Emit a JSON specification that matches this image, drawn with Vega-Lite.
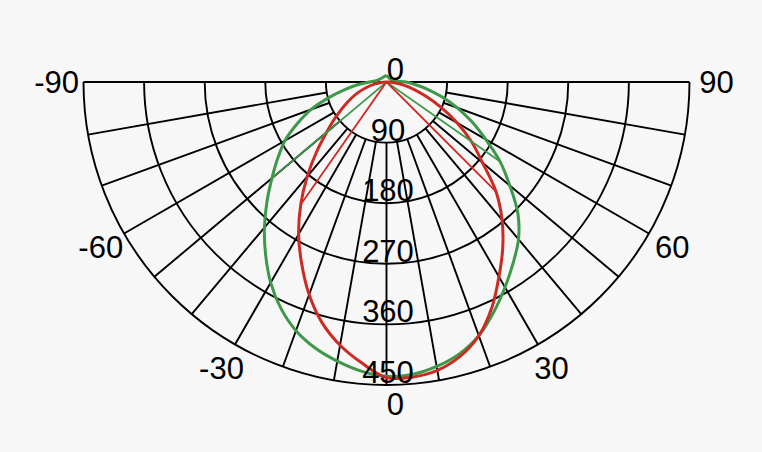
{
  "$schema": "https://vega.github.io/schema/vega-lite/v6.json",
  "width": 762,
  "height": 452,
  "autosize": {"type": "fit", "contains": "padding"},
  "padding": 0,
  "background": "#f7f7f7",
  "config": {"view": {"stroke": null}, "text": {"font": "Liberation Sans", "fontSize": 31, "color": "black"}},
  "datasets": {
    "rings": [{"r": 90}, {"r": 180}, {"r": 270}, {"r": 360}, {"r": 450}],
    "rays": [
      {"a": -90, "r0": 0, "r1": 450}, {"a": -80, "r0": 90, "r1": 450}, {"a": -70, "r0": 90, "r1": 450},
      {"a": -60, "r0": 90, "r1": 450}, {"a": -50, "r0": 90, "r1": 450}, {"a": -40, "r0": 90, "r1": 450},
      {"a": -30, "r0": 90, "r1": 450}, {"a": -20, "r0": 90, "r1": 450}, {"a": -10, "r0": 90, "r1": 450},
      {"a": 0, "r0": 90, "r1": 450}, {"a": 10, "r0": 90, "r1": 450}, {"a": 20, "r0": 90, "r1": 450},
      {"a": 30, "r0": 90, "r1": 450}, {"a": 40, "r0": 90, "r1": 450}, {"a": 50, "r0": 90, "r1": 450},
      {"a": 60, "r0": 90, "r1": 450}, {"a": 70, "r0": 90, "r1": 450}, {"a": 80, "r0": 90, "r1": 450},
      {"a": 90, "r0": 0, "r1": 450}
    ],
    "curves": [
      {"s": "C90/270", "i": 0, "a": -180, "r": 10}, {"s": "C90/270", "i": 1, "a": -100, "r": 14},
      {"s": "C90/270", "i": 2, "a": -90, "r": 25}, {"s": "C90/270", "i": 3, "a": -85, "r": 42},
      {"s": "C90/270", "i": 4, "a": -80, "r": 62}, {"s": "C90/270", "i": 5, "a": -75, "r": 88},
      {"s": "C90/270", "i": 6, "a": -70, "r": 119}, {"s": "C90/270", "i": 7, "a": -65, "r": 146},
      {"s": "C90/270", "i": 8, "a": -60, "r": 174}, {"s": "C90/270", "i": 9, "a": -55, "r": 197},
      {"s": "C90/270", "i": 10, "a": -50, "r": 222}, {"s": "C90/270", "i": 11, "a": -45, "r": 251},
      {"s": "C90/270", "i": 12, "a": -40, "r": 282}, {"s": "C90/270", "i": 13, "a": -35, "r": 313},
      {"s": "C90/270", "i": 14, "a": -30, "r": 344}, {"s": "C90/270", "i": 15, "a": -25, "r": 371},
      {"s": "C90/270", "i": 16, "a": -20, "r": 393}, {"s": "C90/270", "i": 17, "a": -15, "r": 409},
      {"s": "C90/270", "i": 18, "a": -10, "r": 421}, {"s": "C90/270", "i": 19, "a": -5, "r": 431},
      {"s": "C90/270", "i": 20, "a": 0, "r": 437}, {"s": "C90/270", "i": 21, "a": 5, "r": 436},
      {"s": "C90/270", "i": 22, "a": 10, "r": 429}, {"s": "C90/270", "i": 23, "a": 15, "r": 418},
      {"s": "C90/270", "i": 24, "a": 20, "r": 401}, {"s": "C90/270", "i": 25, "a": 25, "r": 377},
      {"s": "C90/270", "i": 26, "a": 30, "r": 352}, {"s": "C90/270", "i": 27, "a": 35, "r": 328},
      {"s": "C90/270", "i": 28, "a": 40, "r": 305}, {"s": "C90/270", "i": 29, "a": 45, "r": 276},
      {"s": "C90/270", "i": 30, "a": 50, "r": 239}, {"s": "C90/270", "i": 31, "a": 55, "r": 206},
      {"s": "C90/270", "i": 32, "a": 60, "r": 170}, {"s": "C90/270", "i": 33, "a": 65, "r": 140},
      {"s": "C90/270", "i": 34, "a": 70, "r": 112}, {"s": "C90/270", "i": 35, "a": 75, "r": 85},
      {"s": "C90/270", "i": 36, "a": 80, "r": 62}, {"s": "C90/270", "i": 37, "a": 85, "r": 42},
      {"s": "C90/270", "i": 38, "a": 90, "r": 29}, {"s": "C90/270", "i": 39, "a": 105, "r": 9},
      {"s": "C90/270", "i": 40, "a": 180, "r": 10},
      {"s": "C0/180", "i": 0, "a": -90, "r": 0}, {"s": "C0/180", "i": 1, "a": -85, "r": 8},
      {"s": "C0/180", "i": 2, "a": -80, "r": 18}, {"s": "C0/180", "i": 3, "a": -75, "r": 30},
      {"s": "C0/180", "i": 4, "a": -70, "r": 44}, {"s": "C0/180", "i": 5, "a": -65, "r": 58},
      {"s": "C0/180", "i": 6, "a": -60, "r": 74}, {"s": "C0/180", "i": 7, "a": -55, "r": 93},
      {"s": "C0/180", "i": 8, "a": -50, "r": 116}, {"s": "C0/180", "i": 9, "a": -45, "r": 147},
      {"s": "C0/180", "i": 10, "a": -40, "r": 183}, {"s": "C0/180", "i": 11, "a": -35, "r": 222},
      {"s": "C0/180", "i": 12, "a": -30, "r": 261}, {"s": "C0/180", "i": 13, "a": -25, "r": 298},
      {"s": "C0/180", "i": 14, "a": -20, "r": 336}, {"s": "C0/180", "i": 15, "a": -15, "r": 370},
      {"s": "C0/180", "i": 16, "a": -10, "r": 397}, {"s": "C0/180", "i": 17, "a": -5, "r": 419},
      {"s": "C0/180", "i": 18, "a": 0, "r": 439}, {"s": "C0/180", "i": 19, "a": 5, "r": 440},
      {"s": "C0/180", "i": 20, "a": 10, "r": 435}, {"s": "C0/180", "i": 21, "a": 15, "r": 422},
      {"s": "C0/180", "i": 22, "a": 20, "r": 401}, {"s": "C0/180", "i": 23, "a": 25, "r": 370},
      {"s": "C0/180", "i": 24, "a": 30, "r": 334}, {"s": "C0/180", "i": 25, "a": 35, "r": 301},
      {"s": "C0/180", "i": 26, "a": 40, "r": 267}, {"s": "C0/180", "i": 27, "a": 45, "r": 230},
      {"s": "C0/180", "i": 28, "a": 50, "r": 186}, {"s": "C0/180", "i": 29, "a": 55, "r": 154},
      {"s": "C0/180", "i": 30, "a": 60, "r": 121}, {"s": "C0/180", "i": 31, "a": 65, "r": 90},
      {"s": "C0/180", "i": 32, "a": 70, "r": 63}, {"s": "C0/180", "i": 33, "a": 75, "r": 42},
      {"s": "C0/180", "i": 34, "a": 80, "r": 26}, {"s": "C0/180", "i": 35, "a": 85, "r": 12},
      {"s": "C0/180", "i": 36, "a": 90, "r": 0}
    ],
    "chords": [
      {"s": "C90/270", "i": 0, "a": -50, "r": 222}, {"s": "C90/270", "i": 1, "a": 0, "r": 0},
      {"s": "C90/270", "i": 2, "a": 55, "r": 206},
      {"s": "C0/180", "i": 0, "a": -35, "r": 222}, {"s": "C0/180", "i": 1, "a": 0, "r": 0},
      {"s": "C0/180", "i": 2, "a": 45, "r": 230}
    ],
    "angleLabels": [
      {"a": -90, "t": "-90"}, {"a": -60, "t": "-60"}, {"a": -30, "t": "-30"},
      {"a": 30, "t": "30"}, {"a": 60, "t": "60"}, {"a": 90, "t": "90"}
    ],
    "zeroLabels": [{"a": 0, "r": 478, "t": "0"}, {"a": 180, "r": 20, "t": "0"}]
  },
  "layer": [
    {
      "data": {"name": "rings"},
      "mark": {"type": "arc", "filled": false, "stroke": "black", "strokeWidth": 1.9, "theta": 1.5708, "theta2": 4.7124},
      "encoding": {
        "x": {"datum": 0, "type": "quantitative", "scale": {"domain": [-574, 557.7], "nice": false, "zero": false}, "axis": null},
        "y": {"datum": 0, "type": "quantitative", "scale": {"domain": [-549.5, 121.8], "nice": false, "zero": false}, "axis": null},
        "radius": {"field": "r", "type": "quantitative", "scale": {"type": "linear", "domain": [0, 450], "range": [0, 303], "zero": true}},
        "radius2": {"field": "r"}
      }
    },
    {
      "data": {"name": "rays"},
      "transform": [
        {"calculate": "datum.r0 * sin(datum.a * PI / 180)", "as": "x0"},
        {"calculate": "-datum.r0 * cos(datum.a * PI / 180)", "as": "y0"},
        {"calculate": "datum.r1 * sin(datum.a * PI / 180)", "as": "x1"},
        {"calculate": "-datum.r1 * cos(datum.a * PI / 180)", "as": "y1"}
      ],
      "mark": {"type": "rule", "color": "black", "strokeWidth": 1.9},
      "encoding": {
        "x": {"field": "x0", "type": "quantitative", "scale": {"domain": [-574, 557.7], "nice": false, "zero": false}, "axis": null},
        "y": {"field": "y0", "type": "quantitative", "scale": {"domain": [-549.5, 121.8], "nice": false, "zero": false}, "axis": null},
        "x2": {"field": "x1"},
        "y2": {"field": "y1"}
      }
    },
    {
      "data": {"name": "curves"},
      "transform": [
        {"calculate": "datum.r * sin(datum.a * PI / 180)", "as": "px"},
        {"calculate": "-datum.r * cos(datum.a * PI / 180)", "as": "py"}
      ],
      "mark": {"type": "line", "strokeWidth": 3, "interpolate": "catmull-rom"},
      "encoding": {
        "x": {"field": "px", "type": "quantitative", "scale": {"domain": [-574, 557.7], "nice": false, "zero": false}, "axis": null},
        "y": {"field": "py", "type": "quantitative", "scale": {"domain": [-549.5, 121.8], "nice": false, "zero": false}, "axis": null},
        "color": {"field": "s", "type": "nominal", "scale": {"domain": ["C0/180", "C90/270"], "range": ["#cc2b24", "#3d984a"]}, "legend": null},
        "order": {"field": "i", "type": "quantitative"}
      }
    },
    {
      "data": {"name": "chords"},
      "transform": [
        {"calculate": "datum.r * sin(datum.a * PI / 180)", "as": "px"},
        {"calculate": "-datum.r * cos(datum.a * PI / 180)", "as": "py"}
      ],
      "mark": {"type": "line", "strokeWidth": 1.8},
      "encoding": {
        "x": {"field": "px", "type": "quantitative", "scale": {"domain": [-574, 557.7], "nice": false, "zero": false}, "axis": null},
        "y": {"field": "py", "type": "quantitative", "scale": {"domain": [-549.5, 121.8], "nice": false, "zero": false}, "axis": null},
        "color": {"field": "s", "type": "nominal", "scale": {"domain": ["C0/180", "C90/270"], "range": ["#cc2b24", "#3d984a"]}, "legend": null},
        "order": {"field": "i", "type": "quantitative"}
      }
    },
    {
      "data": {"name": "rings"},
      "transform": [{"calculate": "-datum.r", "as": "py"}],
      "mark": {"type": "text", "align": "center", "baseline": "alphabetic", "dx": 1.5, "dy": -2},
      "encoding": {
        "x": {"datum": 0, "type": "quantitative", "scale": {"domain": [-574, 557.7], "nice": false, "zero": false}, "axis": null},
        "y": {"field": "py", "type": "quantitative", "scale": {"domain": [-549.5, 121.8], "nice": false, "zero": false}, "axis": null},
        "text": {"field": "r", "type": "quantitative"}
      }
    },
    {
      "data": {"name": "angleLabels"},
      "transform": [
        {"calculate": "490 * sin(datum.a * PI / 180)", "as": "px"},
        {"calculate": "-490 * cos(datum.a * PI / 180)", "as": "py"}
      ],
      "mark": {"type": "text", "align": "center", "baseline": "middle", "dy": 2},
      "encoding": {
        "x": {"field": "px", "type": "quantitative", "scale": {"domain": [-574, 557.7], "nice": false, "zero": false}, "axis": null},
        "y": {"field": "py", "type": "quantitative", "scale": {"domain": [-549.5, 121.8], "nice": false, "zero": false}, "axis": null},
        "text": {"field": "t"}
      }
    },
    {
      "data": {"name": "zeroLabels"},
      "transform": [
        {"calculate": "datum.r * sin(datum.a * PI / 180)", "as": "px"},
        {"calculate": "-datum.r * cos(datum.a * PI / 180)", "as": "py"}
      ],
      "mark": {"type": "text", "align": "center", "baseline": "middle", "dx": 9, "dy": 2},
      "encoding": {
        "x": {"field": "px", "type": "quantitative", "scale": {"domain": [-574, 557.7], "nice": false, "zero": false}, "axis": null},
        "y": {"field": "py", "type": "quantitative", "scale": {"domain": [-549.5, 121.8], "nice": false, "zero": false}, "axis": null},
        "text": {"field": "t"}
      }
    }
  ]
}
